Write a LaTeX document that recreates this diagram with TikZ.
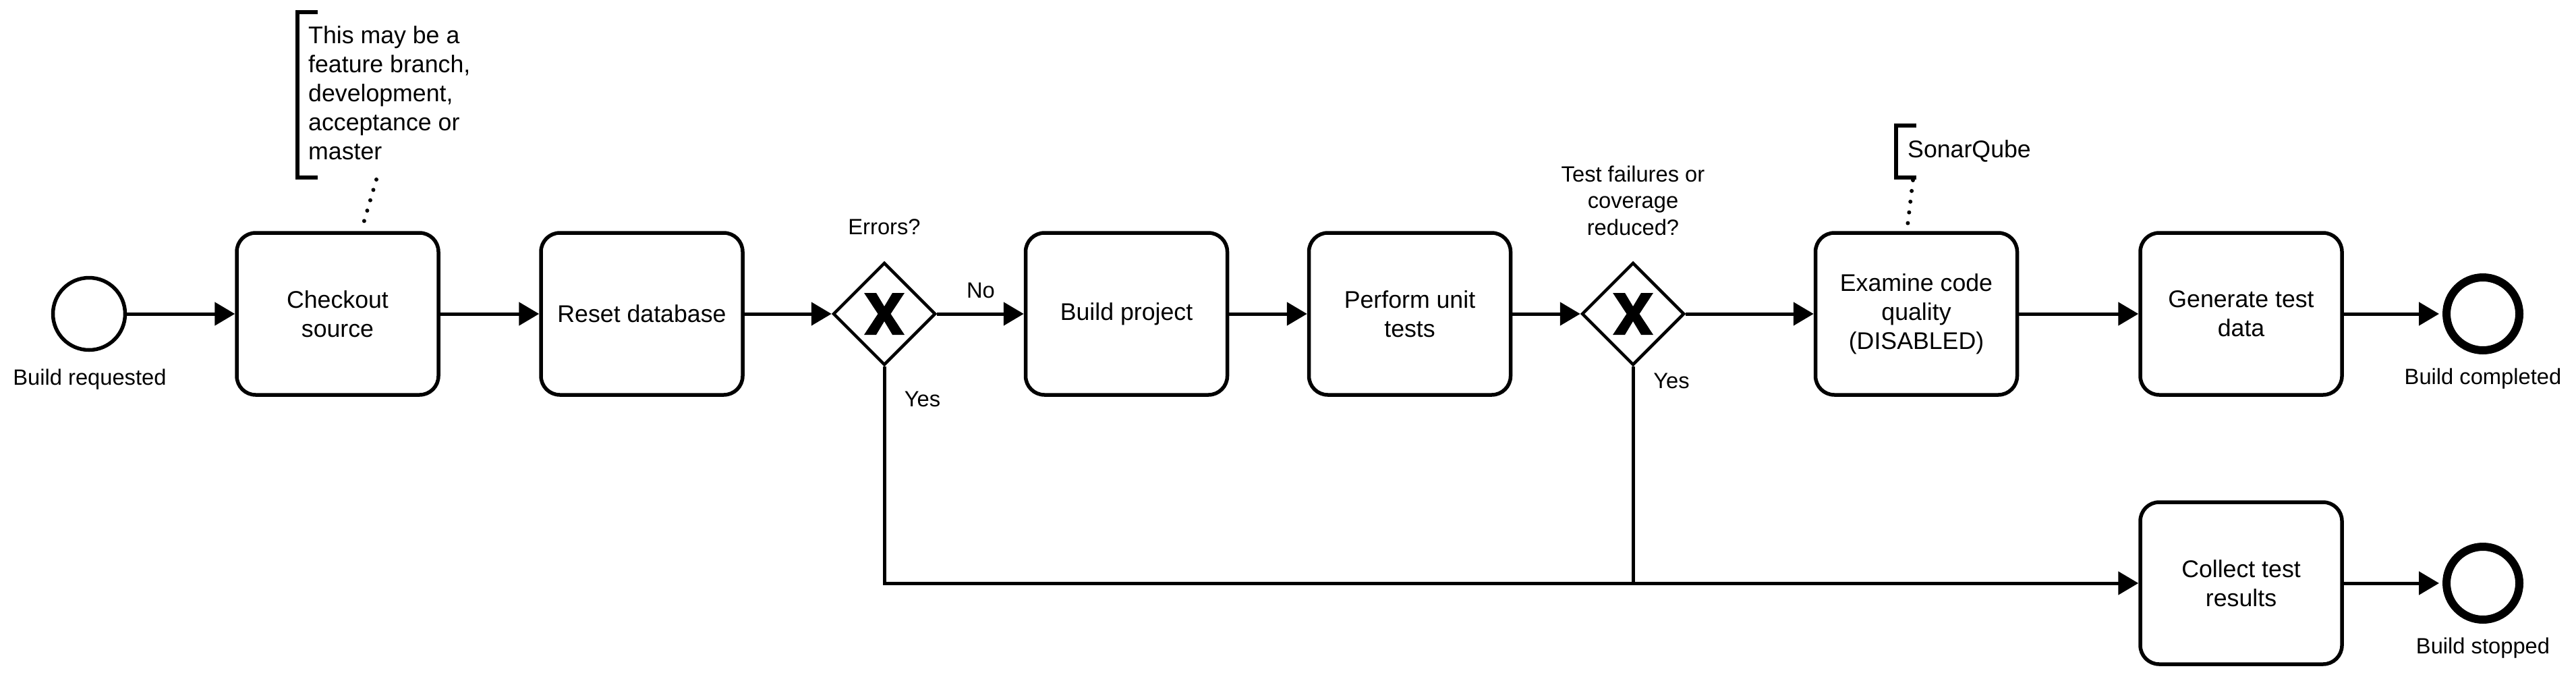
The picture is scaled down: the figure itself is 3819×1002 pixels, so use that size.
\documentclass[tikz,border=0pt]{standalone}
\usepackage{fontspec}
\setmainfont{Liberation Sans}
\usetikzlibrary{arrows.meta,shapes.geometric}
\begin{document}
\begin{tikzpicture}[x=1pt,y=-1pt,
 task/.style={draw,line width=5.5pt,rounded corners=28pt,minimum width=299pt,minimum height=240pt,inner sep=0pt,align=center,font=\fontsize{35.7}{42.8}\selectfont},
 gw/.style={draw,diamond,line width=4.5pt,minimum width=152pt,minimum height=152pt,inner sep=0pt},
 startev/.style={draw,circle,line width=5.5pt,minimum size=107pt,inner sep=0pt},
 endev/.style={draw,circle,line width=12pt,minimum size=108pt,inner sep=0pt},
 lbl/.style={font=\fontsize{32.7}{39.3}\selectfont,inner sep=0pt,align=center},
 note/.style={font=\fontsize{35.7}{42.8}\selectfont,inner sep=0pt,align=left},
 flow/.style={line width=5pt,-{Triangle[length=30pt,width=34pt]}},
 assoc/.style={line width=6pt,line cap=round,dash pattern=on 0pt off 16pt},
 brk/.style={line width=6pt},
 xmark/.style={fill=black},
]
\useasboundingbox (0,0) rectangle (3819,1002);

% events
\node[startev] (start) at (132,465) {};
\node[lbl,anchor=base] (startl) at (133,570) {Build requested};
\node[endev] (endc) at (3681,465) {};
\node[lbl,anchor=base] (endcl) at (3681,569) {Build completed};
\node[endev] (ends) at (3681,864) {};
\node[lbl,anchor=base] (endsl) at (3681,968) {Build stopped};

% tasks
\node[task] (checkout) at (500.5,465) {Checkout\\source};
\node[task] (reset) at (951.5,465) {Reset database};
\node[task] (build) at (1670,465) {Build project};
\node[task] (unit) at (2090,465) {Perform unit\\tests};
\node[task] (exam) at (2841,465) {Examine code\\quality\\(DISABLED)};
\node[task] (gen) at (3322.5,465) {Generate test\\data};
\node[task] (collect) at (3322.5,864) {Collect test\\results};

% gateways
\node[gw] (g1) at (1311,465) {};
\node[gw] (g2) at (2421,465) {};
\foreach \g in {g1,g2}{
  \fill[xmark,shift={(\g.center)}] (-30,-31) -- (-12,-31) -- (0,-11) -- (12,-31) -- (30,-31) -- (9.5,0) -- (30,31) -- (12,31) -- (0,11) -- (-12,31) -- (-30,31) -- (-9.5,0) -- cycle;
}
\node[lbl,anchor=base] (g1l) at (1311,347) {Errors?};
\node[lbl,anchor=base] (g2l) at (2421,348) {Test failures or\\coverage\\reduced?};
\node[lbl,anchor=base] (nol) at (1454,441) {No};
\node[lbl,anchor=base] (yes1) at (1367.5,602) {Yes};
\node[lbl,anchor=base] (yes2) at (2478,575) {Yes};

% annotations
\node[note,anchor=base west] (note1) at (457,236) {This may be a\\feature branch,\\development,\\acceptance or\\master};
\draw[brk] (471,18) -- (441,18) -- (441,263) -- (471,263);
\coordinate (n1a) at (558,266);
\draw[assoc] (n1a) -- ([xshift=35pt]checkout.north);

\node[note,anchor=base west] (note2) at (2828,233) {SonarQube};
\draw[brk] (2841,186) -- (2811,186) -- (2811,263) -- (2841,263);
\coordinate (n2a) at (2836,267);
\draw[assoc] (n2a) -- ([xshift=-14pt]exam.north);

% flows
\draw[flow] (start) -- (checkout);
\draw[flow] (checkout) -- (reset);
\draw[flow] (reset) -- (g1);
\draw[flow] (g1) -- (build);
\draw[flow] (build) -- (unit);
\draw[flow] (unit) -- (g2);
\draw[flow] (g2) -- (exam);
\draw[flow] (exam) -- (gen);
\draw[flow,shorten >=5pt] (gen) -- (endc);
\draw[flow] (g1.south) |- (collect.west);
\draw[line width=5pt] (g2.south) -- (g2.south |- collect.west);
\draw[flow,shorten >=5pt] (collect) -- (ends);
\end{tikzpicture}
\end{document}
